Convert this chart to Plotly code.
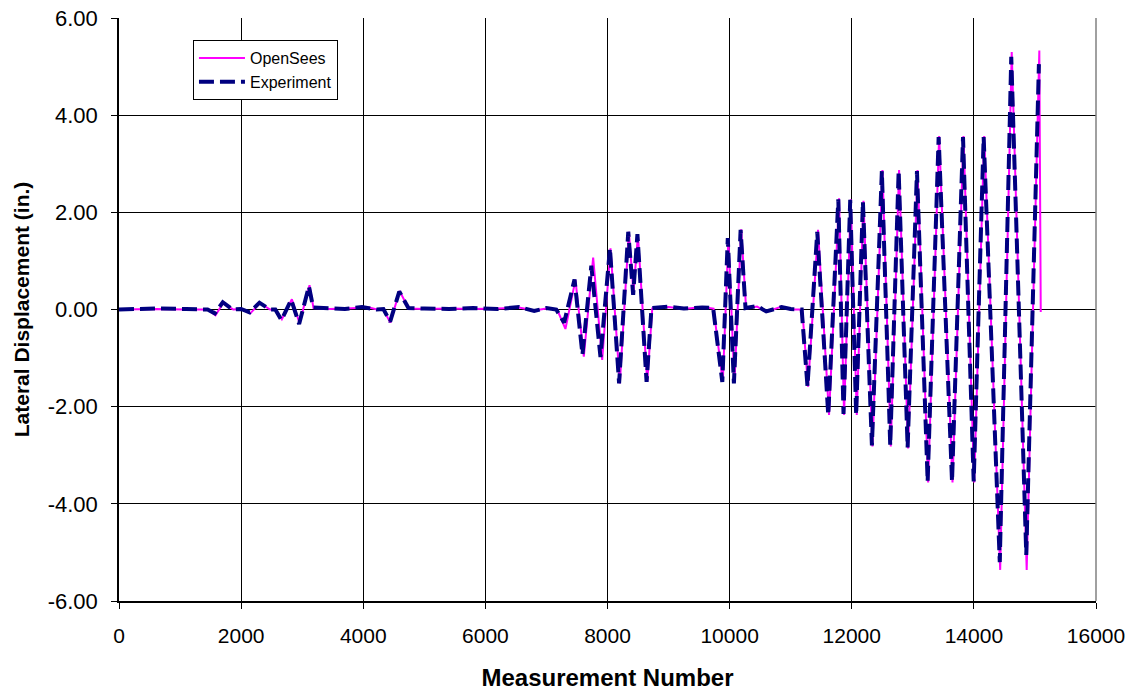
import plotly.graph_objects as go

# OpenSees prediction: turning points of the lateral displacement history (in.)
opensees_step = [
    0, 600, 1100, 1450, 1580, 1710, 1870, 2000, 2150, 2310, 2475, 2560,
    2667, 2831, 2956, 3120, 3185, 3450, 3700, 3980, 4100, 4224, 4330,
    4443, 4595, 4743, 5000, 5400, 5800, 6200, 6550, 6800, 7000, 7175,
    7311, 7475, 7612, 7765, 7913, 8049, 8202, 8350, 8425, 8498, 8651,
    8733, 9000, 9250, 9550, 9737, 9888, 9980, 10079, 10189, 10270,
    10450, 10600, 10850, 11000, 11190, 11284, 11448, 11628, 11792,
    11874, 11984, 12082, 12192, 12339, 12503, 12639, 12775, 12923,
    13077, 13251, 13431, 13650, 13830, 14005, 14169, 14431, 14620,
    14865, 15072, 15095,
]
opensees_disp = [
    0.00, 0.01, 0.00, 0.00, -0.12, 0.14, 0.00, 0.01, -0.08, 0.13, 0.00, 0.00,
    -0.20, 0.21, -0.28, 0.50, 0.03, 0.01, 0.02, 0.04, 0.04, 0.00, 0.00,
    -0.27, 0.38, 0.02, 0.01, 0.02, 0.01, 0.02, 0.04, -0.02, 0.02, 0.00,
    -0.40, 0.61, -0.97, 1.07, -1.04, 1.26, -1.52, 1.60, 0.35, 1.53, -1.49,
    0.02, 0.05, 0.01, 0.05, 0.02, -1.49, 1.46, -1.51, 1.65, 0.02,
    0.06, -0.05, 0.06, 0.00, 0.00, -1.59, 1.64, -2.17, 2.29,
    -2.17, 2.27, -2.17, 2.24, -2.82, 2.87, -2.82, 2.87, -2.86,
    2.87, -3.56, 3.57, -3.56, 3.57, -3.56, 3.57, -5.36, 5.30,
    -5.36, 5.33, -0.05,
]

# Measured lateral displacement history (in.)
experiment_step = [
    0, 600, 1100, 1450, 1570, 1700, 1860, 2000, 2140, 2300, 2470, 2560,
    2660, 2820, 2950, 3110, 3180, 3450, 3700, 3980, 4100, 4220, 4330,
    4440, 4590, 4740, 5000, 5400, 5800, 6200, 6550, 6800, 7000, 7160,
    7290, 7460, 7590, 7735, 7885, 8040, 8190, 8340, 8420, 8490, 8640,
    8720, 9000, 9250, 9550, 9730, 9880, 9970, 10070, 10180, 10260,
    10450, 10600, 10850, 11000, 11180, 11275, 11435, 11615, 11780,
    11865, 11975, 12072, 12183, 12330, 12493, 12630, 12768, 12915,
    13068, 13243, 13423, 13642, 13822, 13997, 14160, 14424, 14612,
    14858, 15065,
]
experiment_disp = [
    0.00, 0.02, 0.01, 0.00, -0.08, 0.15, 0.00, 0.01, -0.06, 0.14, 0.00, 0.00,
    -0.22, 0.20, -0.30, 0.48, 0.04, 0.02, 0.01, 0.05, 0.03, 0.00, 0.01,
    -0.25, 0.37, 0.03, 0.02, 0.01, 0.03, 0.01, 0.05, -0.03, 0.03, 0.00,
    -0.27, 0.62, -0.93, 0.90, -0.98, 1.26, -1.52, 1.60, 0.30, 1.55, -1.49,
    0.03, 0.06, 0.02, 0.04, 0.03, -1.49, 1.47, -1.52, 1.64, 0.03,
    0.07, -0.04, 0.05, 0.01, 0.00, -1.58, 1.60, -2.17, 2.27,
    -2.15, 2.26, -2.17, 2.22, -2.80, 2.85, -2.80, 2.85, -2.84,
    2.85, -3.54, 3.55, -3.54, 3.55, -3.54, 3.55, -5.20, 5.20,
    -5.05, 5.05,
]

x_tick_vals = [0, 2000, 4000, 6000, 8000, 10000, 12000, 14000, 16000]
x_tick_text = ["0", "2000", "4000", "6000", "8000", "10000", "12000", "14000", "16000"]
y_tick_vals = [-6, -4, -2, 0, 2, 4, 6]
y_tick_text = ["-6.00", "-4.00", "-2.00", "0.00", "2.00", "4.00", "6.00"]

FONT = "Liberation Sans, Arial, sans-serif"

fig = go.Figure()
fig.add_trace(go.Scatter(
    x=opensees_step, y=opensees_disp, mode="lines", name="OpenSees",
    line=dict(color="#FF00FF", width=2),
))
fig.add_trace(go.Scatter(
    x=experiment_step, y=experiment_disp, mode="lines", name="Experiment",
    line=dict(color="#000080", width=4, dash="15px,6px"),
))

axis_common = dict(
    automargin=False,
    showgrid=True, gridcolor="black", gridwidth=1,
    zeroline=False,
    showline=True, linecolor="black", linewidth=1.5,
    ticks="outside", ticklen=6, tickcolor="black", tickwidth=1,
)

fig.update_xaxes(
    range=[0, 16000], tickmode="array", tickvals=x_tick_vals, ticktext=x_tick_text,
    ticklabelstandoff=9,
    tickfont=dict(family=FONT, size=21, color="black"),
    title=dict(text="<b>Measurement Number</b>", standoff=23,
               font=dict(family=FONT, size=24, color="black")),
    **axis_common,
)
fig.update_yaxes(
    range=[-6, 6], tickmode="array", tickvals=y_tick_vals, ticktext=y_tick_text,
    ticklabelstandoff=9,
    tickfont=dict(family=FONT, size=22, color="black"),
    title=dict(text="<b>Lateral Displacement (in.)</b>", standoff=12,
               font=dict(family=FONT, size=21, color="black")),
    **axis_common,
)

fig.update_layout(
    width=1135, height=693,
    margin=dict(l=119, r=39, t=18, b=92, autoexpand=False),
    paper_bgcolor="white", plot_bgcolor="white",
    font=dict(family=FONT, color="black"),
    showlegend=True,
    legend=dict(
        x=0.0757, y=0.962, xanchor="left", yanchor="top",
        bgcolor="white", bordercolor="black", borderwidth=1,
        font=dict(family=FONT, size=16, color="black"),
        itemwidth=46,
    ),
    shapes=[dict(type="line", xref="paper", yref="paper", x0=1, x1=1, y0=0, y1=1,
                 line=dict(color="#808080", width=1.5))],
)

fig.write_html("out.html")
